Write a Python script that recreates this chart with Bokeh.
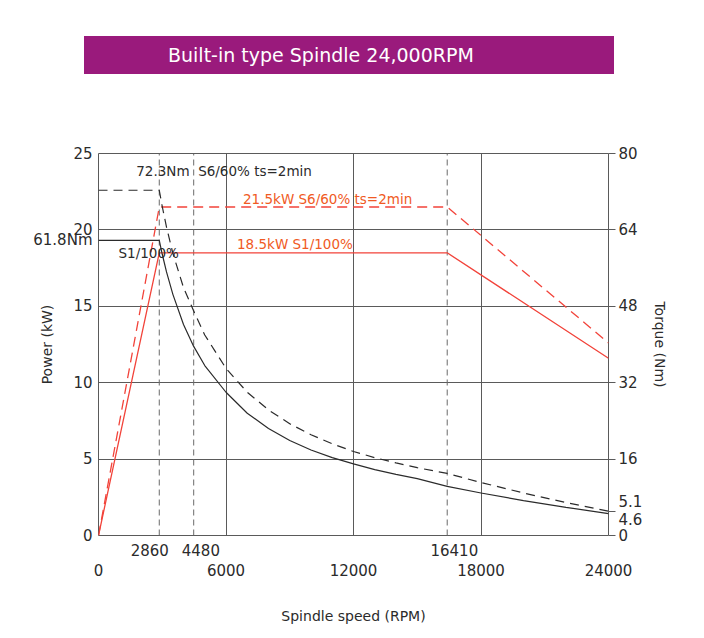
from bokeh.plotting import figure
from bokeh.models import Range1d, LinearAxis, FixedTicker, Label, Div
from bokeh.layouts import column
from bokeh.embed import file_html
from bokeh.resources import INLINE

# ---------------- data ----------------
title_text = "Built-in type Spindle 24,000RPM"

# power curves (kW) vs spindle speed (RPM)
power_speed = [0, 2860, 16410, 24000]
power_s1 = [0, 18.5, 18.5, 11.6]
power_s6 = [0, 21.5, 21.5, 12.6]

# torque curves (Nm) vs spindle speed (RPM)
torque_speed = [0, 2860, 3000, 3200, 3500, 4000, 4480, 5000, 6000, 7000, 8000,
                9000, 10000, 11000, 12000, 13000, 14000, 15000, 16410, 18000,
                20000, 22000, 24000]
torque_s1 = [61.8, 61.8, 58.9, 55.2, 50.5, 44.2, 39.6, 35.6, 30.0, 25.6, 22.4,
             19.9, 17.9, 16.3, 15.0, 13.8, 12.8, 11.9, 10.3, 8.9,
             7.3, 5.9, 4.6]
torque_s6 = [72.3, 72.3, 68.9, 64.6, 59.1, 51.9, 47.0, 42.0, 35.0, 30.0, 26.3,
             23.4, 21.1, 19.2, 17.6, 16.3, 15.2, 14.2, 13.0, 11.1,
             8.9, 6.9, 5.1]

marked_speeds = [2860, 4480, 16410]
speed_ticks = [0, 6000, 12000, 18000, 24000]
speed_grid = [6000, 12000, 18000]
power_ticks = [0, 5, 10, 15, 20, 25]
power_grid = [5, 10, 15, 20]
torque_ticks = [0, 16, 32, 48, 64, 80]
torque_end_labels = [5.1, 4.6]
s1_torque_label = "61.8Nm"

FONT = "DejaVu Sans"
RED = "#f2433a"
ORANGE = "#f05a24"
DARK = "#2b2b2b"
GRID = "#5a5a5a"
NBSP = "\u00a0"

# ---------------- figure ----------------
p = figure(frame_width=510, frame_height=382,
           x_range=Range1d(0, 24000), y_range=Range1d(0, 25),
           x_axis_location=None, y_axis_location=None,
           output_backend="svg", toolbar_location=None,
           min_border_left=98, min_border_right=80,
           min_border_top=79, min_border_bottom=92,
           background_fill_color="white", border_fill_color="white")
p.extra_y_ranges = {"torque": Range1d(0, 80)}
p.outline_line_color = GRID
p.outline_line_width = 1

p.xgrid.ticker = FixedTicker(ticks=speed_grid)
p.ygrid.ticker = FixedTicker(ticks=power_grid)
p.grid.grid_line_color = GRID
p.grid.grid_line_width = 1
p.grid.grid_line_alpha = 1

def style_axis(ax, size="15px"):
    ax.axis_line_color = None
    ax.major_tick_in = 0
    ax.minor_tick_line_color = None
    ax.major_label_text_font = FONT
    ax.major_label_text_font_size = size
    ax.major_label_text_color = DARK
    ax.axis_label_text_font = FONT
    ax.axis_label_text_font_size = "14px"
    ax.axis_label_text_font_style = "normal"
    ax.axis_label_text_color = DARK

# power -> torque scale factor (kW per Nm on the shared vertical scale)
kw_per_nm = p.y_range.end / p.extra_y_ranges["torque"].end
s1_torque_kw = torque_s1[0] * kw_per_nm

left = LinearAxis(ticker=FixedTicker(ticks=power_ticks + [s1_torque_kw]),
                  axis_label="Power (kW)")
left.major_label_overrides = {s1_torque_kw: s1_torque_label}
style_axis(left)
left.major_tick_out = 0
left.major_label_standoff = 6
left.axis_label_standoff = -25
p.add_layout(left, "left")

right = LinearAxis(y_range_name="torque",
                   ticker=FixedTicker(ticks=torque_ticks + [torque_end_labels[0]]),
                   axis_label="Torque (Nm)")
right.major_label_overrides = {torque_end_labels[0]: "\n".join(str(v) for v in torque_end_labels)}
style_axis(right)
right.major_label_text_line_height = 1.0
right.major_tick_out = 7
right.major_tick_line_color = GRID
right.major_label_standoff = 3
right.axis_label_standoff = 7
p.add_layout(right, "right")

# first row of speed labels: the marked speeds (spaced apart like the reference)
marked_axis = LinearAxis(ticker=FixedTicker(ticks=marked_speeds))
marked_axis.major_label_overrides = {
    marked_speeds[0]: str(marked_speeds[0]) + NBSP * 4,
    marked_speeds[1]: NBSP * 3 + str(marked_speeds[1]),
    marked_speeds[2]: NBSP * 3 + str(marked_speeds[2]),
}
style_axis(marked_axis)
marked_axis.major_tick_out = 0
marked_axis.major_label_standoff = 6
p.add_layout(marked_axis, "below")

bottom = LinearAxis(ticker=FixedTicker(ticks=speed_ticks), axis_label="Spindle speed (RPM)")
style_axis(bottom)
bottom.major_tick_out = 0
bottom.major_label_standoff = 1
bottom.axis_label_standoff = 29
p.add_layout(bottom, "below")

# vertical dashed marker lines
p.segment(x0=marked_speeds, y0=[p.y_range.start] * len(marked_speeds),
          x1=marked_speeds, y1=[p.y_range.end] * len(marked_speeds),
          line_color="#6a6a6a", line_width=1, line_dash="6 4")

# power curves
p.line(power_speed, power_s1, line_color=RED, line_width=1.3)
p.line(power_speed, power_s6, line_color=RED, line_width=1.3, line_dash="10 6")

# torque curves
p.line(torque_speed, torque_s1, y_range_name="torque", line_color=DARK, line_width=1.2)
p.line(torque_speed, torque_s6, y_range_name="torque", line_color=DARK, line_width=1.2,
       line_dash="9 6")

def add_label(x, y, text, color=DARK, size="13.5px", xo=0, yo=0, align="left",
              rng="default"):
    lab = Label(x=x, y=y, text=text, x_offset=xo, y_offset=yo,
                text_font=FONT, text_font_size=size, text_color=color,
                text_align=align, text_baseline="middle")
    if rng != "default":
        lab.y_range_name = rng
    p.add_layout(lab)

# curve annotations
add_label(marked_speeds[0], torque_s6[0], "72.3Nm" + NBSP * 2 + "S6/60% ts=2min",
          xo=-23, yo=19, rng="torque")
add_label(0, torque_s1[0], "S1/100%", xo=20, yo=-13, rng="torque")
add_label(speed_grid[0], power_s6[1], "21.5kW S6/60% ts=2min", color=ORANGE, xo=17, yo=8)
add_label(speed_grid[0], power_s1[1], "18.5kW S1/100%", color=ORANGE, xo=11, yo=9)

# ---------------- title banner ----------------
banner = Div(text=title_text, width=530, height=38, margin=(36, 0, 0, 84),
             styles={"background-color": "#9a1a7c", "color": "white",
                     "font-family": FONT, "font-size": "19px",
                     "line-height": "38px", "padding-left": "84px",
                     "box-sizing": "border-box", "white-space": "nowrap"})

layout = column(banner, p, spacing=0)

open("out.html", "w").write(file_html(layout, INLINE))
